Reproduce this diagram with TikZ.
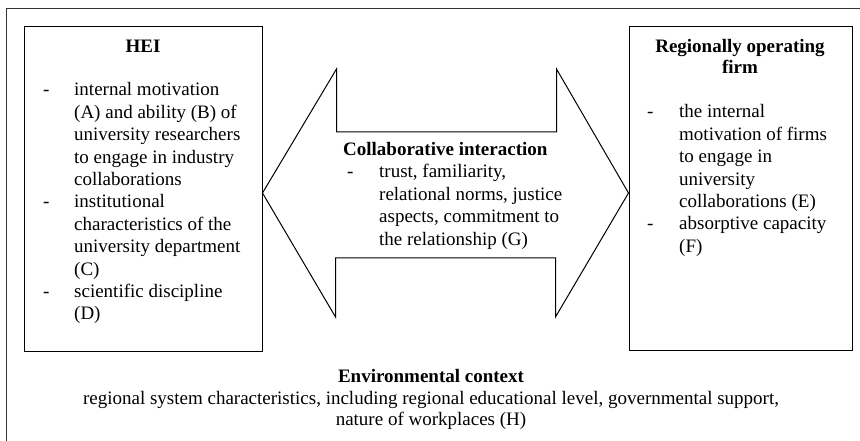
\documentclass[tikz,border=0pt]{standalone}
\usepackage{fontspec}
\setmainfont{Liberation Serif}
\usetikzlibrary{positioning}

\tikzset{
  frame/.style={line width=1pt, draw=black!80},
  box/.style={draw, line width=1pt, inner sep=0pt},
  head/.style={font=\fontsize{19}{21}\selectfont\bfseries, anchor=base, inner sep=0pt},
  lst/.style={font=\fontsize{19}{22.4}\selectfont, anchor=base west, inner sep=0pt},
}

\begin{document}
\begin{tikzpicture}[x=1pt, y=1pt]
\useasboundingbox (0,0) rectangle (860,441);
% outer frame, only top and left edge are visible
\draw[frame] (6,0) -- (6,432) -- (860,432);

% the two partners
\node[box, minimum width=238pt, minimum height=325pt] (hei) at (143,251.5) {};
\node[box, minimum width=223pt, minimum height=324pt] (firm) at (740.5,252) {};

% double arrow in between
\path (hei.east) ++(0,-3.5) coordinate (ltip);
\path (firm.west) ++(0,-4) coordinate (rtip);
\draw[line width=1pt] (ltip) -- ++(74,124) -- ++(0,-63) -- ++(220,0) -- ++(0,63)
  -- (rtip) -- ++(-73,-124) -- ++(0,59) -- ++(-220,0) -- ++(0,-59) -- cycle;

% HEI
\node[head] (heititle) at (143,388) {HEI};
\node[lst] (heilist) at (43,345) {\begin{tabular}[t]{@{}p{31pt}@{}l@{}}
  - & internal motivation\\
    & (A) and ability (B) of\\
    & university researchers\\
    & to engage in industry\\
    & collaborations\\
  - & institutional\\
    & characteristics of the\\
    & university department\\
    & (C)\\
  - & scientific discipline\\
    & (D)
\end{tabular}};

% firm
\node[head] (firmtitle) at (740,388.5) {\begin{tabular}[t]{@{}c@{}}Regionally operating\\firm\end{tabular}};
\node[lst] (firmlist) at (647,323) {\begin{tabular}[t]{@{}p{32pt}@{}l@{}}
  - & the internal\\
    & motivation of firms\\
    & to engage in\\
    & university\\
    & collaborations (E)\\
  - & absorptive capacity\\
    & (F)
\end{tabular}};

% interaction
\node[head, anchor=base west] (collabtitle) at (343,285) {Collaborative interaction};
\node[lst] (collablist) at (347,263) {\begin{tabular}[t]{@{}p{32pt}@{}l@{}}
  - & trust, familiarity,\\
    & relational norms, justice\\
    & aspects, commitment to\\
    & the relationship (G)
\end{tabular}};

% environment
\node[head] (envtitle) at (431,58) {Environmental context};
\node[lst, anchor=base, font=\fontsize{19}{21}\selectfont] (envtext) at (431,36) {\begin{tabular}[t]{@{}c@{}}
  regional system characteristics, including regional educational level, governmental support,\\
  nature of workplaces (H)
\end{tabular}};
\end{tikzpicture}
\end{document}
